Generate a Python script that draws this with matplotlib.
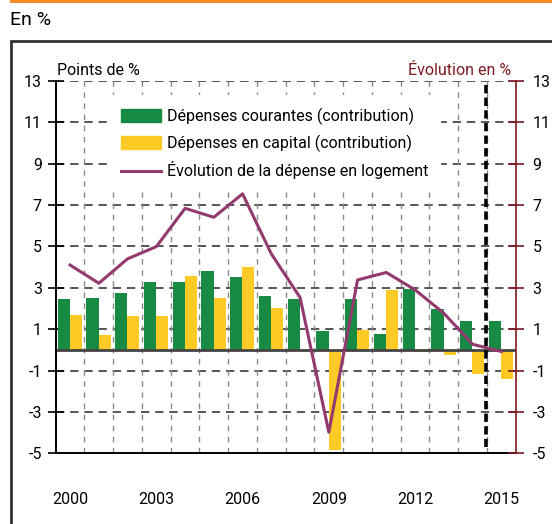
import matplotlib
matplotlib.use("Agg")
import matplotlib.pyplot as plt
from matplotlib.patches import Rectangle, Patch
from matplotlib.lines import Line2D
import numpy as np

plt.rcParams['font.family'] = ['Roboto', 'DejaVu Sans']

years = list(range(2000, 2016))
courantes = [2.46, 2.51, 2.75, 3.28, 3.28, 3.81, 3.52, 2.61, 2.46, 0.92, 2.46, 0.77, 2.95, 1.98, 1.40, 1.40]
capital = [1.69, 0.72, 1.64, 1.64, 3.57, 2.51, 4.00, 2.03, 0.05, -4.86, 0.97, 2.90, -0.08, -0.23, -1.16, -1.43]
evolution = [4.10, 3.22, 4.40, 4.99, 6.84, 6.41, 7.54, 4.64, 2.53, -3.98, 3.38, 3.74, 2.90, 1.77, 0.27, -0.08]
ytick_vals = [-5, -3, -1, 1, 3, 5, 7, 9, 11, 13]
xlabel_years = [2000, 2003, 2006, 2009, 2012, 2015]
forecast_start = 2015

GREEN = '#178a44'
YELLOW = '#ffc926'
PURPLE = '#923a6e'
DARKRED = '#7d1a22'

W, H = 552, 524
fig = plt.figure(figsize=(W / 100, H / 100), dpi=100)

def fx(px):
    return px / W

def fy(py):
    return 1 - py / H

# outer frame and orange top rule
fig.add_artist(Rectangle((fx(10.5), fy(600)), fx(700), (600 - 41) / H,
                         transform=fig.transFigure, fill=False, lw=2, ec='#333333'))
fig.add_artist(Line2D([fx(10.5), 1.0], [fy(1), fy(1)], transform=fig.transFigure, color='#f28c28', lw=2.2))
fig.text(fx(10.5), fy(20), 'En %', fontsize=14, ha='left', va='center')

left, right = 55.7, 515.7
top, bottom = 80.9, 453.3
ax = fig.add_axes([fx(left), fy(bottom), fx(right - left), (bottom - top) / H])

idx = np.arange(len(years))
ax.bar(idx + 0.28, courantes, width=0.42, color=GREEN, zorder=3)
ax.bar(idx + 0.70, capital, width=0.42, color=YELLOW, zorder=3)

ax.set_xlim(0, len(years))
ax.set_ylim(-5, 13)

for v in ytick_vals[1:]:
    ax.axhline(v, color='#3a3a3a', lw=1.2, ls=(0, (5, 3.5)), zorder=1)
for b in range(1, len(years)):
    ax.axvline(b, color='#8a8a8a', lw=1.0, ls=(0, (4, 4)), zorder=1)
ax.axhline(0, color='#444444', lw=2, zorder=4)

ax.set_yticks(ytick_vals)
ax.set_yticklabels([str(v) for v in ytick_vals])
ax.tick_params(axis='y', direction='inout', length=12, width=1.2, color='black', pad=4, labelsize=11.5)
ax.set_xticks([years.index(y) + 0.5 for y in xlabel_years])
ax.set_xticklabels([str(y) for y in xlabel_years])
ax.tick_params(axis='x', length=0, pad=28, labelsize=11.5)

ax.spines['top'].set_visible(False)
ax.spines['right'].set_visible(False)
ax.spines['left'].set_linewidth(1.4)
ax.spines['bottom'].set_linewidth(1.4)
ax.spines['left'].set_zorder(5)
ax.spines['bottom'].set_zorder(5)

ax2 = ax.twinx()
ax2.set_ylim(-5, 13)
ax2.set_yticks(ytick_vals)
ax2.set_yticklabels([str(v) for v in ytick_vals])
ax2.tick_params(axis='y', direction='inout', length=12, width=1.2, color=DARKRED, pad=6, labelsize=11.5)
for s in ['top', 'left', 'bottom']:
    ax2.spines[s].set_visible(False)
ax2.spines['right'].set_color(DARKRED)
ax2.spines['right'].set_linewidth(1.2)

ax2.plot(idx + 0.5, evolution, color=PURPLE, lw=2.2, zorder=5)
ax2.plot([forecast_start - years[0] - 0.05] * 2, [12.8, -4.7], color='black', lw=2.6, ls=(0, (2.3, 1.2)), zorder=6)

handles = [Patch(color=GREEN), Patch(color=YELLOW), Line2D([], [], color=PURPLE, lw=2.2)]
labels = ['Dépenses courantes (contribution)', 'Dépenses en capital (contribution)', 'Évolution de la dépense en logement']
ax_w = right - left
ax_h = bottom - top
leg = ax2.legend(handles, labels, loc='upper left',
                 bbox_to_anchor=((108 - left) / ax_w, 1 - (95 - top) / ax_h),
                 bbox_transform=ax2.transAxes, frameon=True, fancybox=False, framealpha=1, facecolor='white', edgecolor='none',
                 fontsize=11.5, handlelength=2.5, handleheight=0.85, handletextpad=0.4, labelspacing=0.6, borderaxespad=0, borderpad=0.8)
leg.set_zorder(10)

ax.text(0.003, 1.008, 'Points de %', transform=ax.transAxes, fontsize=11.5, ha='left', va='bottom')
ax2.text(0.99, 1.008, 'Évolution en %', transform=ax2.transAxes, fontsize=11.5, ha='right', va='bottom', color=DARKRED)

fig.savefig('out.png', dpi=100)
